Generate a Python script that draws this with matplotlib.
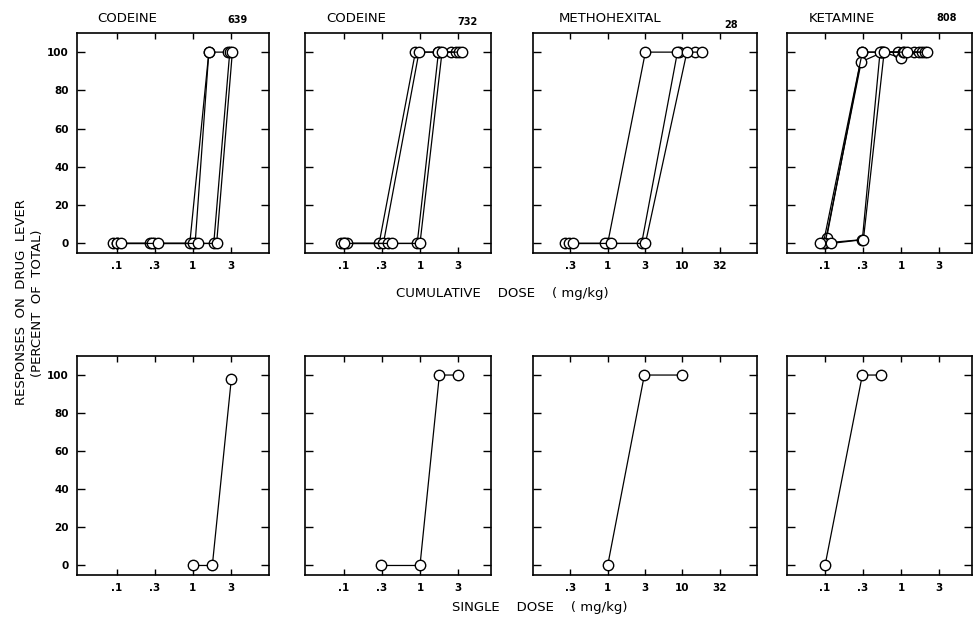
import matplotlib
matplotlib.use("Agg")
import matplotlib.pyplot as plt
from matplotlib.ticker import FixedLocator, NullLocator

plt.rcParams['font.family'] = ['DejaVu Sans']

# panel headings
drugs = ["CODEINE", "CODEINE", "METHOHEXITAL", "KETAMINE"]
subjects = ["639", "732", "28", "808"]

# cumulative dosing, one list per session (mg/kg, % responses on drug lever)
cum_639_dose = [[0.088, 0.27, 0.91, 1.62, 2.85],
                [0.1, 0.31, 1.07, 1.62],
                [0.1, 0.29, 1.0, 1.88, 3.05],
                [0.112, 0.35, 1.15, 2.05, 3.3]]
cum_639_resp = [[0, 0, 0, 100, 100],
                [0, 0, 0, 100],
                [0, 0, 0, 0, 100],
                [0, 0, 0, 0, 100]]

cum_732_dose = [[0.09, 0.29, 0.87, 1.72, 2.55],
                [0.1, 0.33, 0.97, 1.85, 3.0],
                [0.11, 0.38, 0.92, 1.75, 3.3],
                [0.1, 0.43, 1.0, 1.95, 3.6]]
cum_732_resp = [[0, 0, 100, 100, 100],
                [0, 0, 100, 100, 100],
                [0, 0, 0, 100, 100],
                [0, 0, 0, 100, 100]]

cum_28_dose = [[0.27, 1.0, 3.2, 9.0],
               [0.3, 0.92, 2.85, 8.6, 15.0],
               [0.34, 1.1, 3.2, 11.5, 18.5]]
cum_28_resp = [[0, 0, 100, 100],
               [0, 0, 0, 100, 100],
               [0, 0, 0, 100, 100]]

cum_808_dose = [[0.105, 0.31, 0.55, 0.9, 1.5],
                [0.1, 0.30, 0.58, 1.0, 1.7],
                [0.095, 0.31, 0.56, 1.05, 1.9],
                [0.085, 0.31, 0.53, 1.1, 2.05],
                [0.12, 0.32, 0.6, 1.2, 2.2]]
cum_808_resp = [[3, 100, 100, 100, 100],
                [0, 95, 100, 97, 100],
                [0, 100, 100, 100, 100],
                [0, 2, 100, 100, 100],
                [0, 2, 100, 100, 100]]

# single dose determinations
single_dose = [[1.0, 1.8, 3.2],
               [0.31, 1.0, 1.8, 3.2],
               [1.0, 3.1, 9.8],
               [0.1, 0.31, 0.55]]
single_resp = [[0, 0, 98],
               [0, 0, 100, 100],
               [0, 100, 100],
               [0, 100, 100]]

cum_dose = [cum_639_dose, cum_732_dose, cum_28_dose, cum_808_dose]
cum_resp = [cum_639_resp, cum_732_resp, cum_28_resp, cum_808_resp]

xtick_vals = [[0.1, 0.316, 1, 3.16], [0.1, 0.316, 1, 3.16],
              [0.316, 1, 3.16, 10, 31.6], [0.1, 0.316, 1, 3.16]]
xtick_labels = [[".1", ".3", "1", "3"], [".1", ".3", "1", "3"],
                [".3", "1", "3", "10", "32"], [".1", ".3", "1", "3"]]
xlims = [(0.03, 10), (0.0307, 8.6), (0.1, 100), (0.0316, 8.6)]
yticks = [0, 20, 40, 60, 80, 100]

W, H = 974, 621
fig = plt.figure(figsize=(W / 100, H / 100), dpi=100)

cols = [(77, 269), (305, 491), (533, 757), (787, 972)]
rows = [(33, 253), (356, 575)]


def make_ax(col, row):
    l, r = cols[col]
    t, b = rows[row]
    ax = fig.add_axes([l / W, 1 - b / H, (r - l) / W, (b - t) / H])
    ax.set_xscale('log')
    ax.set_xlim(*xlims[col])
    ax.set_ylim(-5, 110)
    ax.xaxis.set_major_locator(FixedLocator(xtick_vals[col]))
    ax.xaxis.set_minor_locator(NullLocator())
    ax.set_xticklabels(xtick_labels[col], fontweight='bold')
    ax.set_yticks(yticks)
    ax.set_yticklabels([str(v) for v in yticks], fontweight='bold')
    ax.tick_params(direction='in', top=True, right=True, length=6, width=1,
                   labelsize=7.5, pad=6)
    ax.tick_params(axis='x', length=4)
    if col > 0:
        ax.set_yticklabels([])
    for s in ax.spines.values():
        s.set_linewidth(1.2)
    return ax


mk = dict(marker='o', ms=7.5, mfc='white', mec='black', mew=1.0,
          color='black', lw=0.9)

for i in range(4):
    ax = make_ax(i, 0)
    for d, r in zip(cum_dose[i], cum_resp[i]):
        ax.plot(d, r, **mk)
    ax2 = make_ax(i, 1)
    ax2.plot(single_dose[i], single_resp[i], **mk)

# headings
head_x = [127, 356, 610, 842]
num_x = [237, 467, 731, 947]
num_y = [20, 22, 25, 18]
for i in range(4):
    fig.text(head_x[i] / W, 1 - 18 / H, drugs[i], ha='center', va='center',
             fontsize=9.5)
    fig.text(num_x[i] / W, 1 - num_y[i] / H, subjects[i], ha='center',
             va='center', fontsize=7, fontweight='bold')

fig.text(502 / W, 1 - 293 / H, "CUMULATIVE    DOSE    ( mg/kg)",
         ha='center', va='center', fontsize=9.5)
fig.text(540 / W, 1 - 607 / H, "SINGLE    DOSE    ( mg/kg)",
         ha='center', va='center', fontsize=9.5)
fig.text(22 / W, 1 - 302 / H, "RESPONSES  ON  DRUG  LEVER", rotation=90,
         ha='center', va='center', fontsize=9.5)
fig.text(38 / W, 1 - 303 / H, "(PERCENT  OF  TOTAL)", rotation=90,
         ha='center', va='center', fontsize=9.5)

fig.savefig("out.png", dpi=100)
